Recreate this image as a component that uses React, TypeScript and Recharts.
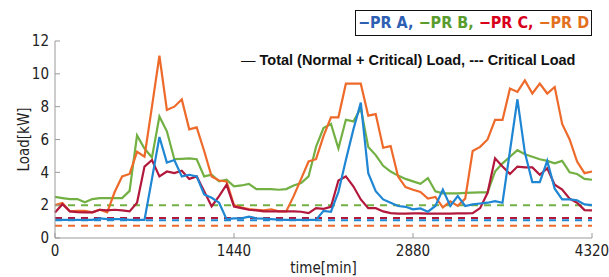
import React from "react";
import {
  LineChart,
  Line,
  XAxis,
  YAxis,
  ReferenceLine,
} from "recharts";

// hourly samples, 0..4320 min
const prA = [
  1.1, 1.1, 1.1, 1.1, 1.1, 1.1, 1.2, 1.15, 1.15, 1.15, 1.1, 1.1, 1.1, 3.6, 6.15,
  4.6, 4.75, 3.75, 3.85, 3.75, 2.65, 2.45, 2.15, 1.15, 1.2, 1.2, 1.3, 1.2, 1.18,
  1.15, 1.12, 1.1, 1.1, 1.1, 1.1, 1.1, 1.65, 1.6, 2.8, 4.75, 6.6, 8.25, 3.95,
  2.85, 2.35, 2.15, 1.95, 1.9, 1.75, 1.8, 1.6, 1.95, 2.95, 1.95, 2.55, 1.95, 2.05,
  2.1, 2.15, 2.25, 2.15, 5.3, 8.45, 5.2, 3.4, 3.4, 4.7, 3.0, 2.35, 2.35, 2.3,
  2.05, 2.0,
];
const prB = [
  2.5, 2.43, 2.37, 2.37, 2.17, 2.37, 2.43, 2.43, 2.43, 2.43, 2.87, 6.25, 5.45,
  4.9, 7.4, 6.5, 4.8, 4.82, 4.85, 4.8, 3.75, 3.85, 3.45, 3.55, 3.15, 3.2, 3.3,
  2.98, 2.98, 2.98, 2.94, 2.98, 3.2, 3.35, 3.75, 5.55, 6.7, 6.95, 5.45, 7.2, 7.1,
  7.9, 5.55, 5.05, 4.4, 4.05, 3.8, 3.6, 3.45, 3.3, 3.65, 2.85, 2.72, 2.72, 2.72,
  2.75, 2.76, 2.78, 2.78, 4.05, 4.55, 4.95, 5.35, 5.1, 4.95, 4.8, 4.7, 4.55, 4.7,
  4.0, 3.9, 3.6, 3.55,
];
const prC = [
  1.56, 2.06, 1.62, 1.58, 1.56, 1.56, 1.72, 1.68, 1.72, 1.68, 1.62, 2.15, 4.35,
  4.75, 3.75, 4.05, 3.95, 4.1, 3.6, 3.75, 2.85, 1.92, 2.55, 3.25, 1.92, 1.82,
  1.72, 1.68, 1.62, 1.62, 1.62, 1.62, 1.62, 1.6, 1.52, 1.82, 1.78, 1.9, 3.5, 3.75,
  3.15, 2.35, 1.82, 1.82, 1.62, 1.52, 1.48, 1.48, 1.5, 1.5, 1.48, 1.48, 1.48,
  1.48, 1.5, 1.5, 1.52, 1.82, 2.75, 4.85, 4.35, 3.9, 4.35, 4.3, 4.3, 3.85, 4.25,
  3.25, 2.95, 2.4, 2.15, 1.7, 1.68,
];
const prD = [
  2.0, 2.13, 1.62, 1.66, 1.65, 1.56, 1.72, 1.56, 2.8, 3.75, 3.9, 5.25, 4.95, 8.0,
  11.1, 7.8, 8.0, 8.44, 6.62, 6.74, 5.3, 3.75, 3.5, 3.44, 2.0, 1.86, 1.76, 1.72,
  1.68, 1.75, 1.62, 1.62, 2.55, 3.6, 4.66, 4.8, 6.2, 7.35, 7.35, 9.4, 9.4, 9.4,
  7.45, 7.55, 5.5, 5.6, 3.74, 3.1, 2.94, 2.8, 2.4, 2.5, 1.87, 2.23, 1.96, 2.4,
  5.3, 5.55, 6.0, 7.19, 7.19, 9.1, 8.9, 9.6, 8.8, 9.4, 8.8, 9.2, 6.95, 6.0, 4.66,
  3.95, 4.05,
];

// critical load levels (dashed)
const criticalA = 1.08;
const criticalB = 2.0;
const criticalC = 1.22;
const criticalD = 0.75;

const xTicks = [0, 1440, 2880, 4320];
const yTicks = [0, 2, 4, 6, 8, 10, 12];

const colA = "#1f86d3";
const colB = "#72b043";
const colC = "#b2183c";
const colD = "#ee6a2a";

const data = prA.map((a, i) => ({
  t: i * 60,
  a,
  b: prB[i],
  c: prC[i],
  d: prD[i],
}));

const font = '"Liberation Sans Narrow", "DejaVu Sans Condensed", "Arial Narrow", sans-serif';
const frame = "#9a9a9a";
const tickStyle = { fontSize: 15, fill: "#222", fontFamily: font };

export default function App() {
  return (
    <div style={{ position: "absolute", left: 0, top: 0, width: 609, height: 277, fontFamily: font, background: "#fff" }}>
      <LineChart width={609} height={277} data={data} margin={{ top: 41, right: 17, bottom: 0, left: 0 }}>
        <XAxis
          dataKey="t"
          type="number"
          domain={[0, 4320]}
          ticks={xTicks}
          interval={0}
          height={39}
          stroke={frame}
          tickSize={-5}
          tickMargin={12}
          tick={tickStyle}
          label={{ value: "time[min]", position: "insideBottom", offset: 4, style: { fontSize: 15, fill: "#222", fontFamily: font } }}
        />
        <XAxis
          xAxisId="top"
          orientation="top"
          type="number"
          domain={[0, 4320]}
          ticks={xTicks}
          height={0}
          stroke={frame}
          tickSize={-5}
          tick={false}
        />
        <YAxis
          type="number"
          domain={[0, 12]}
          ticks={yTicks}
          interval={0}
          width={55}
          stroke={frame}
          tickSize={-5}
          tickMargin={11}
          tick={tickStyle}
          label={{ value: "Load[kW]", angle: -90, position: "center", dx: -4, style: { fontSize: 15, fill: "#222", fontFamily: font } }}
        />
        <YAxis
          yAxisId="right"
          orientation="right"
          type="number"
          domain={[0, 12]}
          ticks={yTicks}
          width={0}
          stroke={frame}
          tickSize={-5}
          tick={false}
        />
        <ReferenceLine y={criticalB} stroke={colB} strokeWidth={2} strokeDasharray="7 6" />
        <ReferenceLine y={criticalA} stroke={colA} strokeWidth={2} strokeDasharray="7 6" />
        <ReferenceLine y={criticalC} stroke={colC} strokeWidth={2} strokeDasharray="7 6" />
        <ReferenceLine y={criticalD} stroke={colD} strokeWidth={2} strokeDasharray="7 6" />
        <Line type="linear" dataKey="b" stroke={colB} strokeWidth={2.2} dot={false} isAnimationActive={false} />
        <Line type="linear" dataKey="d" stroke={colD} strokeWidth={2.2} dot={false} isAnimationActive={false} />
        <Line type="linear" dataKey="c" stroke={colC} strokeWidth={2.2} dot={false} isAnimationActive={false} />
        <Line type="linear" dataKey="a" stroke={colA} strokeWidth={2.2} dot={false} isAnimationActive={false} />
      </LineChart>
      <div
        style={{
          position: "absolute",
          left: 355,
          top: 10,
          width: 235,
          height: 24,
          border: "1.5px solid #111",
          background: "#fff",
          fontSize: 16,
          fontWeight: "bold",
          lineHeight: "24px",
          textAlign: "center",
          whiteSpace: "nowrap",
        }}
      >
        <span style={{ color: "#2f5fb3" }}>−PR A, </span>
        <span style={{ color: "#5a9c2e" }}>−PR B, </span>
        <span style={{ color: "#d9001b" }}>−PR C, </span>
        <span style={{ color: "#e2701e" }}>−PR D</span>
      </div>
      <div
        style={{
          position: "absolute",
          left: 241,
          top: 52,
          fontFamily: "Arial, 'Liberation Sans', sans-serif",
          fontSize: 14.5,
          fontWeight: "bold",
          color: "#111",
          whiteSpace: "nowrap",
        }}
      >
        <span style={{ fontWeight: "normal" }}>—</span> Total (Normal + Critical) Load, --- Critical Load
      </div>
    </div>
  );
}
